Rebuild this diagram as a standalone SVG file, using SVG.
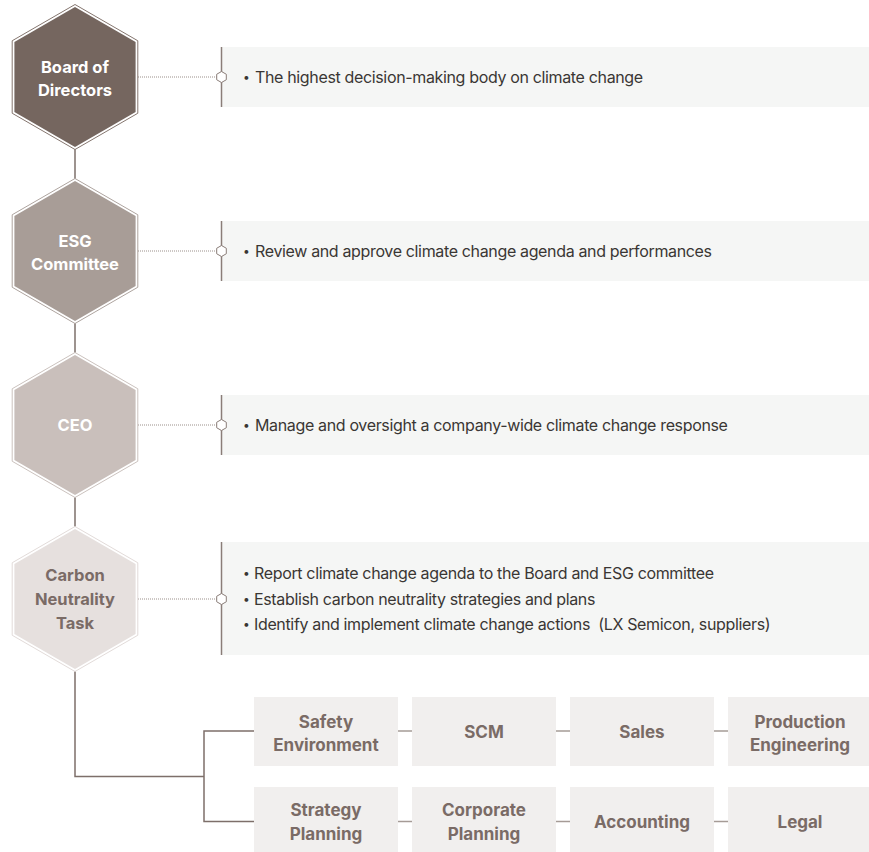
<svg xmlns="http://www.w3.org/2000/svg" width="869" height="852" viewBox="0 0 869 852">
<defs>
<style>
.hexo{fill:#ffffff;stroke-width:1}
.ht{font-family:Inter,"Noto Sans","Liberation Sans",sans-serif;font-weight:700;font-size:16.5px;text-anchor:middle}
.pt{font-family:Inter,"Noto Sans","Liberation Sans",sans-serif;font-size:16px;fill:#3a3634;letter-spacing:-0.35px}
.bul{font-size:12px}
.panel{fill:#f5f6f5}
.pline{stroke:#8a7d78;stroke-width:1.5}
.dot{stroke:#9a8f8a;stroke-width:1;stroke-dasharray:1 1;fill:none}
.mk{fill:#ffffff;stroke:#8a7d78;stroke-width:1}
.box{fill:#f1efee}
.bt{font-family:Inter,"Noto Sans","Liberation Sans",sans-serif;font-weight:700;font-size:17px;fill:#7a6b66;text-anchor:middle}
.conn{stroke:#7d6f6a;stroke-width:1.5;fill:none}
.gap{stroke:#a59b96;stroke-width:1.5;fill:none}
</style>
<polygon id="hexOuter" points="0,-72.5 62.8,-36.25 62.8,36.25 0,72.5 -62.8,36.25 -62.8,-36.25"/>
<polygon id="hexInner" points="0,-70 60.6,-35 60.6,35 0,70 -60.6,35 -60.6,-35"/>
<polygon id="mark" points="0,-5.5 4.8,-2.75 4.8,2.75 0,5.5 -4.8,2.75 -4.8,-2.75"/>
</defs>

<g id="connectors">
<line class="conn" x1="75" y1="149" x2="75" y2="179"/>
<line class="conn" x1="75" y1="323" x2="75" y2="353"/>
<line class="conn" x1="75" y1="497" x2="75" y2="527"/>
<polyline class="conn" points="75,671 75,776.5 204,776.5"/>
<polyline class="conn" points="254,731 204,731 204,821.5 254,821.5"/>
<line class="gap" x1="398" y1="731" x2="412" y2="731"/>
<line class="gap" x1="556" y1="731" x2="570" y2="731"/>
<line class="gap" x1="714" y1="731" x2="728" y2="731"/>
<line class="gap" x1="398" y1="821.5" x2="412" y2="821.5"/>
<line class="gap" x1="556" y1="821.5" x2="570" y2="821.5"/>
<line class="gap" x1="714" y1="821.5" x2="728" y2="821.5"/>
<line class="dot" x1="138" y1="77" x2="217" y2="77"/>
<line class="dot" x1="138" y1="251" x2="217" y2="251"/>
<line class="dot" x1="138" y1="425" x2="217" y2="425"/>
<line class="dot" x1="138" y1="599" x2="217" y2="599"/>
</g>

<g id="board">
<use href="#hexOuter" x="75" y="77" class="hexo" stroke="#85766f"/>
<use href="#hexInner" x="75" y="77" fill="#75665f"/>
<text class="ht" fill="#ffffff"><tspan x="75" y="72.7">Board of</tspan><tspan x="75" y="96">Directors</tspan></text>
</g>
<g id="esg">
<use href="#hexOuter" x="75" y="251" class="hexo" stroke="#aea49f"/>
<use href="#hexInner" x="75" y="251" fill="#a89d97"/>
<text class="ht" fill="#ffffff"><tspan x="75" y="246.7">ESG</tspan><tspan x="75" y="270.3">Committee</tspan></text>
</g>
<g id="ceo">
<use href="#hexOuter" x="75" y="425" class="hexo" stroke="#cbc2be"/>
<use href="#hexInner" x="75" y="425" fill="#c9bfbb"/>
<text class="ht" fill="#ffffff"><tspan x="75" y="431">CEO</tspan></text>
</g>
<g id="carbon">
<use href="#hexOuter" x="75" y="599" class="hexo" stroke="#e2dbd9"/>
<use href="#hexInner" x="75" y="599" fill="#e6e0de"/>
<text class="ht" fill="#7a6b66"><tspan x="75" y="581">Carbon</tspan><tspan x="75" y="605">Neutrality</tspan><tspan x="75" y="628.5">Task</tspan></text>
</g>

<g id="panel-board">
<rect class="panel" x="221.5" y="47" width="647.5" height="60"/>
<line class="pline" x1="221.5" y1="47" x2="221.5" y2="107"/>
<use href="#mark" x="221.5" y="77" class="mk"/>
<text class="pt" y="82.8"><tspan x="243" dy="-1.8" class="bul">•</tspan><tspan x="255" dy="1.8">The highest decision-making body on climate change</tspan></text>
</g>
<g id="panel-esg">
<rect class="panel" x="221.5" y="221" width="647.5" height="60"/>
<line class="pline" x1="221.5" y1="221" x2="221.5" y2="281"/>
<use href="#mark" x="221.5" y="251" class="mk"/>
<text class="pt" y="256.8"><tspan x="243" dy="-1.8" class="bul">•</tspan><tspan x="255" dy="1.8">Review and approve climate change agenda and performances</tspan></text>
</g>
<g id="panel-ceo">
<rect class="panel" x="221.5" y="395" width="647.5" height="60"/>
<line class="pline" x1="221.5" y1="395" x2="221.5" y2="455"/>
<use href="#mark" x="221.5" y="425" class="mk"/>
<text class="pt" y="430.8"><tspan x="243" dy="-1.8" class="bul">•</tspan><tspan x="255" dy="1.8">Manage and oversight a company-wide climate change response</tspan></text>
</g>
<g id="panel-carbon">
<rect class="panel" x="221.5" y="542" width="647.5" height="113"/>
<line class="pline" x1="221.5" y1="542" x2="221.5" y2="655"/>
<use href="#mark" x="221.5" y="599" class="mk"/>
<text class="pt" y="579"><tspan x="243" dy="-1.8" class="bul">•</tspan><tspan x="254" dy="1.8">Report climate change agenda to the Board and ESG committee</tspan></text>
<text class="pt" y="604.5"><tspan x="243" dy="-1.8" class="bul">•</tspan><tspan x="254" dy="1.8">Establish carbon neutrality strategies and plans</tspan></text>
<text class="pt" y="630"><tspan x="243" dy="-1.8" class="bul">•</tspan><tspan x="254" dy="1.8" xml:space="preserve">Identify and implement climate change actions  (LX Semicon, suppliers)</tspan></text>
</g>

<g id="box-safety"><rect class="box" x="254" y="697" width="144" height="69"/><text class="bt"><tspan x="326" y="727.7">Safety</tspan><tspan x="326" y="751">Environment</tspan></text></g>
<g id="box-scm"><rect class="box" x="412" y="697" width="144" height="69"/><text class="bt" x="484" y="738">SCM</text></g>
<g id="box-sales"><rect class="box" x="570" y="697" width="144" height="69"/><text class="bt" x="642" y="738">Sales</text></g>
<g id="box-production"><rect class="box" x="728" y="697" width="144" height="69"/><text class="bt"><tspan x="800" y="727.7">Production</tspan><tspan x="800" y="751">Engineering</tspan></text></g>
<g id="box-strategy"><rect class="box" x="254" y="787" width="144" height="69"/><text class="bt"><tspan x="326" y="816">Strategy</tspan><tspan x="326" y="840">Planning</tspan></text></g>
<g id="box-corporate"><rect class="box" x="412" y="787" width="144" height="69"/><text class="bt"><tspan x="484" y="816">Corporate</tspan><tspan x="484" y="840">Planning</tspan></text></g>
<g id="box-accounting"><rect class="box" x="570" y="787" width="144" height="69"/><text class="bt" x="642" y="827.5">Accounting</text></g>
<g id="box-legal"><rect class="box" x="728" y="787" width="144" height="69"/><text class="bt" x="800" y="827.5">Legal</text></g>
</svg>
